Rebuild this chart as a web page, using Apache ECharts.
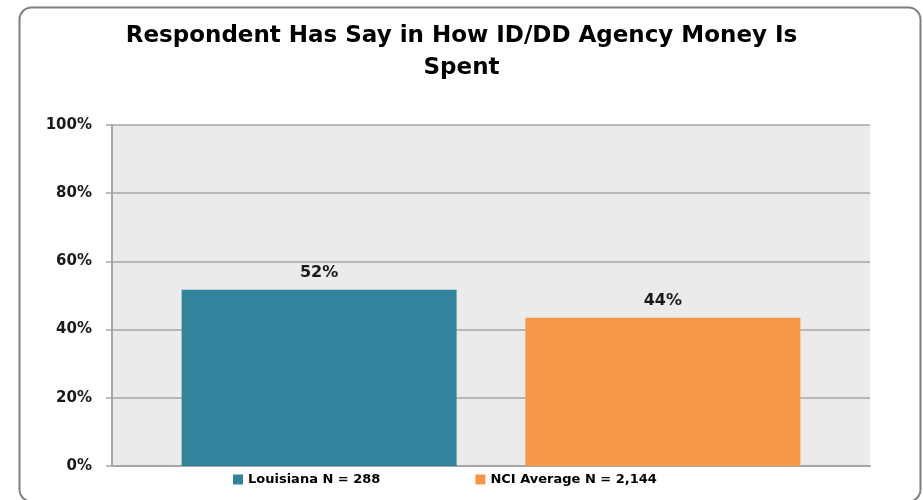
<!DOCTYPE html>
<html><head><meta charset="utf-8">
<script src="https://cdn.jsdelivr.net/npm/echarts@6/dist/echarts.min.js"></script>
<style>html,body{margin:0;padding:0;background:#fff}#c{width:923px;height:500px}</style>
</head><body><div id="c"></div>
<script>
const titleText = 'Respondent Has Say in How ID/DD Agency Money Is\nSpent';
const categories = ['Respondent Has Say'];
const seriesNames = ['Louisiana N = 288', 'NCI Average N = 2,144'];
const louisianaValues = [51.7];
const nciValues = [43.5];
const yTicks = [0, 20, 40, 60, 80, 100];
const colors = ['#31849B', '#F79646'];

const chart = echarts.init(document.getElementById('c'), null, {renderer: 'canvas'});
const labelCfg = {
  show: true, position: 'top', distance: 9,
  formatter: p => Math.round(p.value) + '%',
  fontFamily: 'DejaVu Sans', fontWeight: 'bold', fontSize: 16, color: '#1a1a1a'
};
chart.setOption({
  animation: false,
  backgroundColor: '#fff',
  graphic: [{
    type: 'rect', left: 17, top: 5,
    shape: {width: 901, height: 494, r: 12},
    style: {fill: 'none', stroke: '#7F7F7F', lineWidth: 2}
  }],
  title: {
    text: titleText, left: 'center', top: 15, padding: [5, 5, 5, 20],
    textStyle: {fontFamily: 'DejaVu Sans', fontWeight: 'bold', fontSize: 23, lineHeight: 32, color: '#000'}
  },
  legend: {
    data: seriesNames, top: 468, left: 228, itemWidth: 10, itemHeight: 10, itemGap: 95,
    icon: 'rect',
    textStyle: {fontFamily: 'DejaVu Sans', fontWeight: 'bold', fontSize: 13, color: '#000'}
  },
  grid: {left: 112, right: 53, top: 125, bottom: 34, show: true, backgroundColor: '#EBEBEB', borderWidth: 0},
  xAxis: {
    type: 'category', data: categories,
    axisLine: {lineStyle: {color: '#A6A6A6', width: 2}},
    axisTick: {show: false}, axisLabel: {show: false}
  },
  yAxis: {
    type: 'value', min: yTicks[0], max: yTicks[yTicks.length - 1], interval: 20,
    axisLine: {show: true, lineStyle: {color: '#A6A6A6', width: 2}},
    axisTick: {show: true, length: 6, lineStyle: {color: '#A6A6A6', width: 1.5}},
    axisLabel: {formatter: '{value}%', margin: 20, fontFamily: 'DejaVu Sans', fontWeight: 'bold', fontSize: 15, color: '#1a1a1a'},
    splitLine: {lineStyle: {color: '#A6A6A6', width: 1.5}}
  },
  series: [
    {name: seriesNames[0], type: 'bar', data: louisianaValues, barWidth: 275, barGap: '25%',
     itemStyle: {color: colors[0]}, label: labelCfg},
    {name: seriesNames[1], type: 'bar', data: nciValues, barWidth: 275,
     itemStyle: {color: colors[1]}, label: labelCfg}
  ]
});
</script></body></html>
